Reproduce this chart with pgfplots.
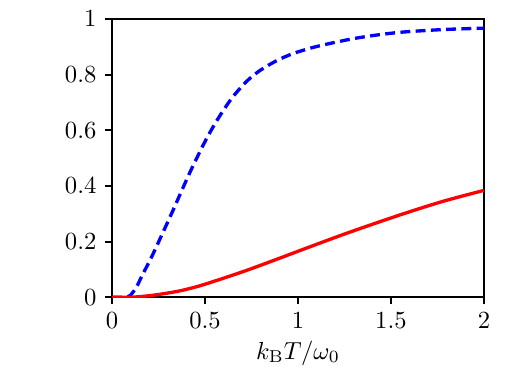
\documentclass[border=0pt]{standalone}
\usepackage{pgfplots}
\pgfplotsset{compat=1.18}
\begin{document}
\begin{tikzpicture}
\begin{axis}[
  scale only axis,
  width=151pt, height=113pt,
  xmin=0, xmax=2, ymin=0, ymax=1,
  xtick={0,0.5,1,1.5,2},
  ytick={0,0.2,0.4,0.6,0.8,1},
  xtick pos=left, ytick pos=left,
  tick align=outside,
  major tick length=2.8pt,
  every tick/.style={black, line width=0.8pt},
  axis line style={line width=0.8pt},
  xlabel={$k_\mathrm{B}T/\omega_0$},
  xlabel style={yshift=2pt},
  clip=true,
]
\addplot[blue, line width=1.35pt, dash pattern=on 4pt off 2.2pt, smooth] coordinates {
(0,0) (0.06,0) (0.085,0.002) (0.099,0.007) (0.13,0.035) (0.161,0.077) (0.215,0.148) (0.269,0.226) (0.323,0.305) (0.376,0.385) (0.421,0.452) (0.491,0.548) (0.545,0.614) (0.599,0.672) (0.652,0.722) (0.724,0.776) (0.796,0.815) (0.885,0.850) (0.975,0.876) (1.1,0.901) (1.28,0.927) (1.41,0.941) (1.548,0.952) (1.7,0.959) (1.817,0.963) (2.0,0.967)
};
\addplot[red, line width=1.35pt, smooth] coordinates {
(0,0) (0.1,0) (0.179,0.004) (0.25,0.01) (0.358,0.022) (0.45,0.037) (0.538,0.055) (0.717,0.095) (0.896,0.139) (1.075,0.184) (1.254,0.228) (1.434,0.27) (1.613,0.31) (1.792,0.347) (2.0,0.384)
};
\end{axis}
\path[use as bounding box] ([xshift=-45.5pt,yshift=-34.5pt]current axis.south west) rectangle ([xshift=11pt,yshift=7.7pt]current axis.north east);
\end{tikzpicture}
\end{document}
